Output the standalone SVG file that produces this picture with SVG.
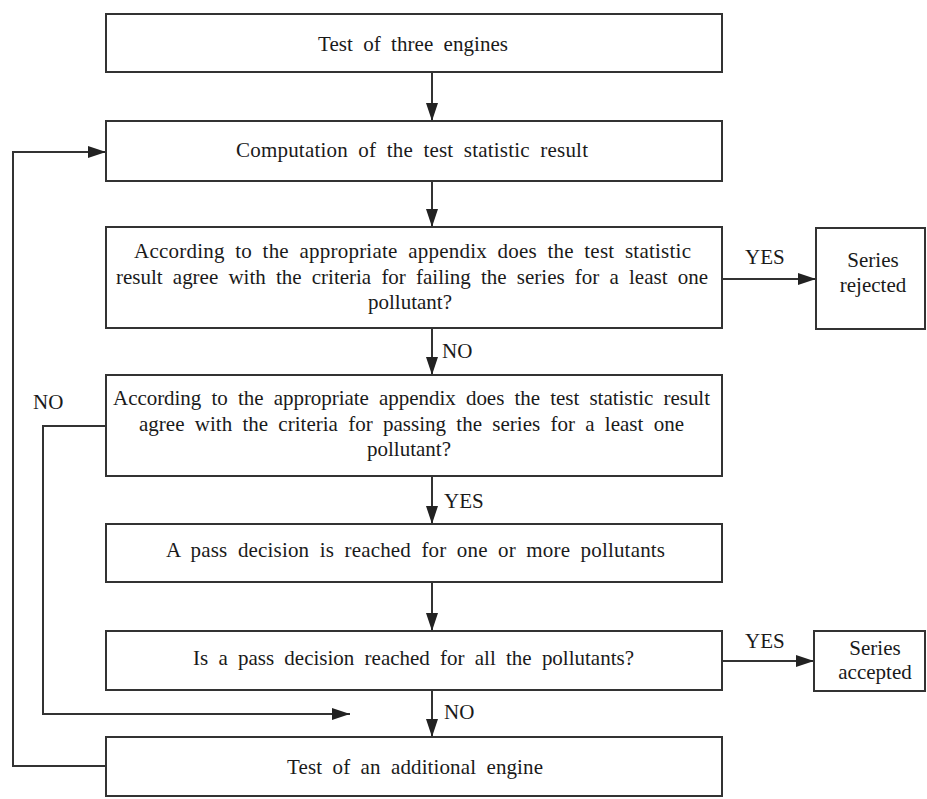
<svg xmlns="http://www.w3.org/2000/svg" width="927" height="799" viewBox="0 0 927 799">
<style>
.box{fill:#fff;stroke:#333;stroke-width:2}
.t{font-family:"Liberation Serif","Times New Roman",serif;font-size:21px;fill:#1a1a1a;word-spacing:5px}
.c{text-anchor:middle;word-spacing:0}
.ln{fill:none;stroke:#333;stroke-width:2}
</style>
<defs>
<marker id="ah" markerUnits="userSpaceOnUse" markerWidth="18" markerHeight="12" refX="18" refY="6" orient="auto">
<path d="M0,0 L18,6 L0,12 z" fill="#222"/>
</marker>
</defs>
<rect width="927" height="799" fill="#fff"/>
<g id="connectors">
<line class="ln" x1="432" y1="72" x2="432" y2="121" marker-end="url(#ah)"/>
<line class="ln" x1="432" y1="181" x2="432" y2="227" marker-end="url(#ah)"/>
<line class="ln" x1="432" y1="328" x2="432" y2="375" marker-end="url(#ah)"/>
<line class="ln" x1="432" y1="476" x2="432" y2="524" marker-end="url(#ah)"/>
<line class="ln" x1="432" y1="582" x2="432" y2="631" marker-end="url(#ah)"/>
<line class="ln" x1="432" y1="690" x2="432" y2="737" marker-end="url(#ah)"/>
<line class="ln" x1="722" y1="279" x2="816" y2="279" marker-end="url(#ah)"/>
<line class="ln" x1="722" y1="661" x2="814" y2="661" marker-end="url(#ah)"/>
<polyline class="ln" points="106,766 13,766 13,152 106,152" marker-end="url(#ah)"/>
<polyline class="ln" points="106,426 43,426 43,714 350,714" marker-end="url(#ah)"/>
<text class="t" x="745" y="264">YES</text>
<text class="t" x="442" y="358">NO</text>
<text class="t" x="33" y="409">NO</text>
<text class="t" x="444" y="508">YES</text>
<text class="t" x="745" y="648">YES</text>
<text class="t" x="444" y="719">NO</text>
</g>
<g id="n1">
<rect class="box" x="106" y="14" width="616" height="58"/>
<text class="t" x="318" y="51" textLength="190" lengthAdjust="spacing">Test of three engines</text>
</g>
<g id="n2">
<rect class="box" x="106" y="121" width="616" height="60"/>
<text class="t" x="236" y="157" textLength="352" lengthAdjust="spacing">Computation of the test statistic result</text>
</g>
<g id="n3">
<rect class="box" x="106" y="227" width="616" height="101"/>
<text class="t" x="134" y="258" textLength="557" lengthAdjust="spacing">According to the appropriate appendix does the test statistic</text>
<text class="t" x="116" y="284" textLength="592" lengthAdjust="spacing">result agree with the criteria for failing the series for a least one</text>
<text class="t" x="368" y="309">pollutant?</text>
</g>
<g id="n4">
<rect class="box" x="106" y="375" width="616" height="101"/>
<text class="t" x="113" y="405" textLength="597" lengthAdjust="spacing">According to the appropriate appendix does the test statistic result</text>
<text class="t" x="139" y="431" textLength="545" lengthAdjust="spacing">agree with the criteria for passing the series for a least one</text>
<text class="t" x="367" y="456">pollutant?</text>
</g>
<g id="n5">
<rect class="box" x="106" y="524" width="616" height="58"/>
<text class="t" x="166" y="557" textLength="499" lengthAdjust="spacing">A pass decision is reached for one or more pollutants</text>
</g>
<g id="n6">
<rect class="box" x="106" y="631" width="616" height="59"/>
<text class="t" x="193" y="665" textLength="441" lengthAdjust="spacing">Is a pass decision reached for all the pollutants?</text>
</g>
<g id="n7">
<rect class="box" x="106" y="737" width="616" height="59"/>
<text class="t" x="287" y="774" textLength="256" lengthAdjust="spacing">Test of an additional engine</text>
</g>
<g id="rejected">
<rect class="box" x="816" y="228" width="109" height="101"/>
<text class="t c" x="873" y="267">Series</text>
<text class="t c" x="873" y="292">rejected</text>
</g>
<g id="accepted">
<rect class="box" x="814" y="631" width="111" height="60"/>
<text class="t c" x="875" y="655">Series</text>
<text class="t c" x="875" y="679">accepted</text>
</g>
</svg>
